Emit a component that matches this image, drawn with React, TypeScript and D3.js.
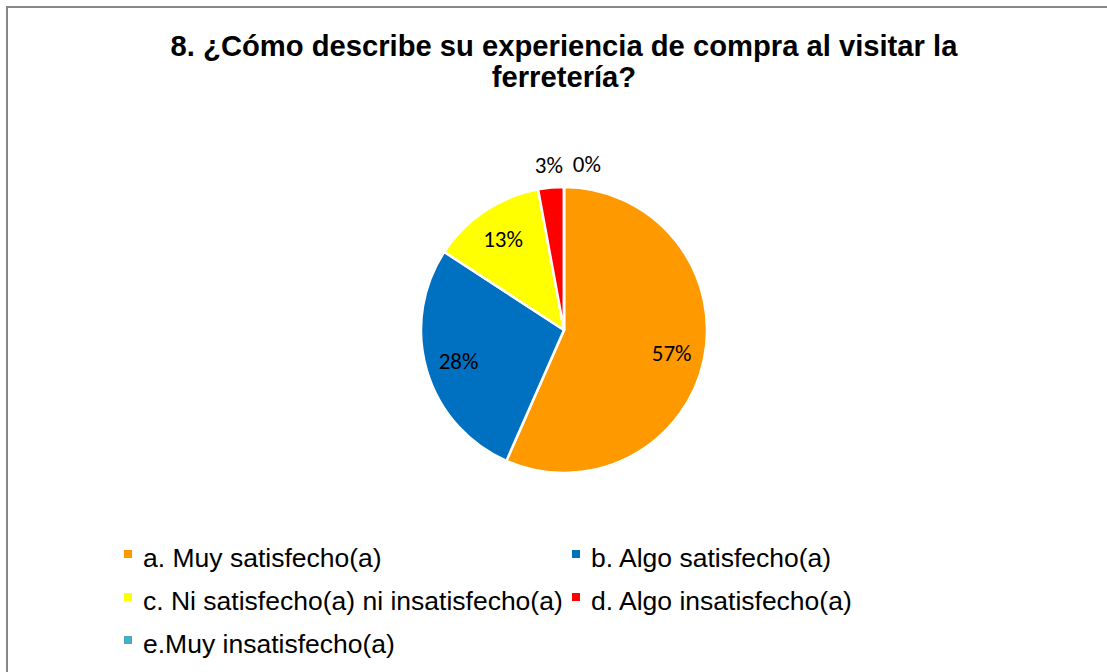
import { pie as d3pie, arc as d3arc, scaleOrdinal } from "d3";

const categories = [
  "a. Muy satisfecho(a)",
  "b. Algo satisfecho(a)",
  "c. Ni satisfecho(a) ni insatisfecho(a)",
  "d. Algo insatisfecho(a)",
  "e.Muy insatisfecho(a)",
];
const values = [56.6, 27.6, 12.9, 2.9, 0];
const colors = ["#FF9900", "#0070C0", "#FFFF00", "#FF0000", "#4BACC6"];
const titleLines = ["8. ¿Cómo describe su experiencia de compra al visitar la", "ferretería?"];

const W = 1107;
const H = 672;
const cx = 564;
const cy = 330;
const R = 143;

export default function App() {
  const color = scaleOrdinal<string, string>().domain(categories).range(colors);
  const slices = d3pie<number>().sort(null).value((d) => d)(values);
  const arc = d3arc<any>().innerRadius(0).outerRadius(R);
  const inLabel = d3arc<any>().innerRadius(110).outerRadius(110);
  const outLabel = d3arc<any>().innerRadius(166).outerRadius(166);

  // labels: small slices go outside, nudged right if they collide
  let prevX = -Infinity;
  const labels = slices.map((s, i) => {
    const txt = `${Math.round(values[i])}%`;
    const outside = values[i] < 5;
    let [x, y] = (outside ? outLabel : inLabel).centroid(s);
    if (outside) {
      const w = txt.length * 14;
      if (x < prevX + w + 10) x = prevX + w + 10;
      prevX = x;
    }
    return { txt, x, y };
  });

  const legendRows = [
    [0, 1],
    [2, 3],
    [4],
  ];
  const colX = [124, 572];
  const rowY = [567, 610, 653];

  return (
    <svg width={W} height={H} style={{ position: "absolute", left: 0, top: 0, background: "#fff" }}>
      <rect x={7} y={7} width={W + 10} height={H + 10} fill="#fff" stroke="#868686" strokeWidth={2} />

      <g fontFamily="'Liberation Sans', Arial, sans-serif" fontWeight="bold" fontSize={29.2} textAnchor="middle" fill="#000">
        {titleLines.map((t, i) => (
          <text key={i} x={cx} y={56 + i * 31}>
            {t}
          </text>
        ))}
      </g>

      <g transform={`translate(${cx},${cy})`}>
        {slices.map((s, i) => (
          <path key={i} d={arc(s) ?? undefined} fill={color(categories[i])} stroke="#fff" strokeWidth={2.5} strokeLinejoin="round" />
        ))}
        {labels.map((l, i) => (
          <text
            key={i}
            x={l.x}
            y={l.y}
            dy="0.35em"
            textAnchor="middle"
            fontFamily="Carlito, Calibri, 'Open Sans', sans-serif"
            fontSize={23}
            fill="#000"
          >
            {l.txt}
          </text>
        ))}
      </g>

      <g fontFamily="'Liberation Sans', Arial, sans-serif" fontSize={26.5} fill="#000">
        {legendRows.map((row, r) =>
          row.map((idx, c) => (
            <g key={idx} transform={`translate(${colX[c]},${rowY[r]})`}>
              <rect x={0} y={-17} width={8} height={8} fill={color(categories[idx])} />
              <text x={19} y={0}>
                {categories[idx]}
              </text>
            </g>
          ))
        )}
      </g>
    </svg>
  );
}
